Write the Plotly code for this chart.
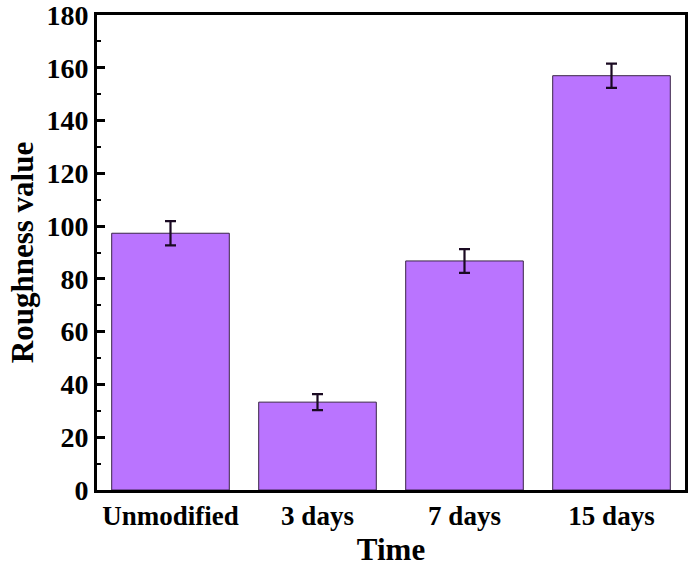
import plotly.graph_objects as go

categories = ["Unmodified", "3 days", "7 days", "15 days"]
values = [97.3, 33.3, 86.8, 157.0]
errors = [4.6, 3.0, 4.5, 4.6]
y_ticks = [0, 20, 40, 60, 80, 100, 120, 140, 160, 180]

font_family = "Liberation Serif, Times New Roman, serif"

fig = go.Figure()
fig.add_trace(go.Bar(
    x=categories,
    y=values,
    marker=dict(color="#BA74FF", line=dict(color="#3A2448", width=1)),
    error_y=dict(type="data", array=errors, visible=True,
                 color="#1A0A22", thickness=2.2, width=5.5),
    width=0.8,
))

fig.update_layout(
    width=689, height=567,
    margin=dict(l=97, r=4, t=15, b=77),
    plot_bgcolor="white", paper_bgcolor="white",
    showlegend=False,
    font=dict(family=font_family, color="black"),
)

fig.update_xaxes(
    range=[-0.5, 3.5], automargin=False,
    showline=True, linecolor="black", linewidth=3, mirror=True,
    ticks="", showgrid=False,
    tickfont=dict(size=27, family=font_family, color="black"),
    title=dict(text="<b>Time</b>", font=dict(size=31, family=font_family), standoff=13),
    tickprefix="<b>", ticksuffix="</b>",
)
fig.update_yaxes(
    range=[0, 180], automargin=False,
    tickvals=y_ticks,
    ticktext=[f"<b>{v}</b>" for v in y_ticks],
    ticklabeloverflow="allow",
    showline=True, linecolor="black", linewidth=3, mirror=True,
    ticks="inside", ticklen=8, tickwidth=2.5, tickcolor="black",
    minor=dict(ticks="inside", ticklen=4, tickwidth=2, tickcolor="black", dtick=10, showgrid=False),
    showgrid=False, zeroline=False,
    tickfont=dict(size=28, family=font_family, color="black"),
    title=dict(text="<b>Roughness value</b>", font=dict(size=31, family=font_family), standoff=4),
)

fig.write_html("out.html", config={"displayModeBar": False},
               post_script="document.body.style.margin='0px';")
